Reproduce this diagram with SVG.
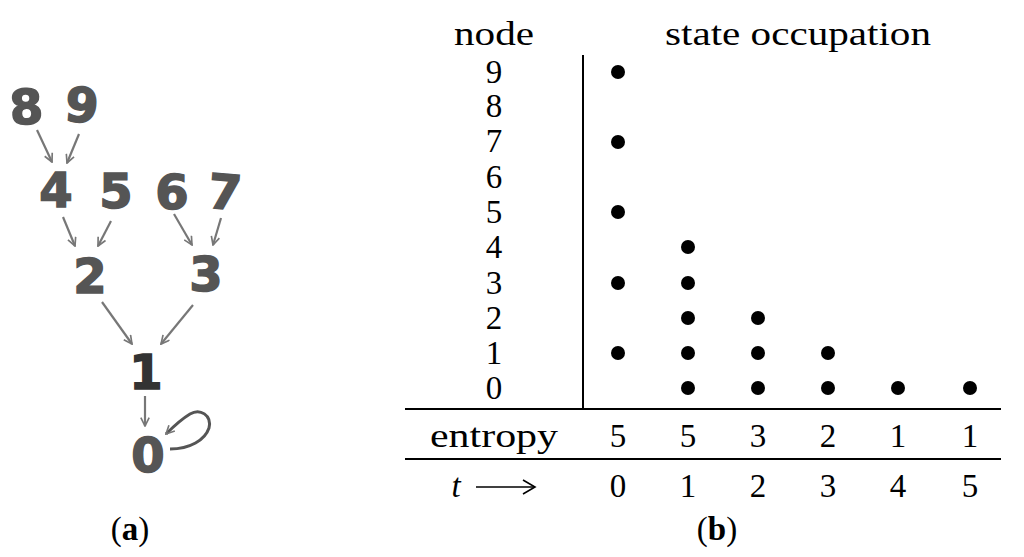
<svg xmlns="http://www.w3.org/2000/svg" width="1024" height="557" viewBox="0 0 1024 557">
<style>
.hd{font-family:"DejaVu Sans","Liberation Sans",sans-serif;font-weight:bold;font-size:48px;fill:#555;text-anchor:middle;stroke:#555;stroke-width:1.5}
.ar{stroke:#777;stroke-width:2.2;fill:none}
.tx{font-family:"Liberation Serif","DejaVu Serif",serif;font-size:33px;fill:#000;text-anchor:middle}
.dot{fill:#000}
.ln{stroke:#000;stroke-width:2;fill:none}
</style>
<defs>
<marker id="ah" viewBox="0 0 12 12" refX="11" refY="6" markerWidth="10" markerHeight="10" markerUnits="userSpaceOnUse" orient="auto">
<polyline points="1,1 11,6 1,11" fill="none" stroke="#777" stroke-width="2"/>
</marker>
</defs>
<rect width="1024" height="557" fill="#fff"/>
<g id="panel-a">
<g id="n8"><text class="hd" x="26" y="124" transform="rotate(-4 26 105)">8</text></g>
<g id="n9"><text class="hd" x="82" y="122" transform="rotate(6 82 103)">9</text></g>
<g id="n4"><text class="hd" x="56" y="207">4</text></g>
<g id="n5"><text class="hd" x="116" y="208">5</text></g>
<g id="n6"><text class="hd" x="172" y="209">6</text></g>
<g id="n7"><text class="hd" x="225" y="209" transform="rotate(5 225 190)">7</text></g>
<g id="n2"><text class="hd" x="90" y="293">2</text></g>
<g id="n3"><text class="hd" x="206" y="291">3</text></g>
<g id="n1"><text class="hd" x="146" y="389" style="fill:#333;stroke:#333">1</text></g>
<g id="n0"><text class="hd" x="148" y="472">0</text></g>
<g id="connectors">
<line class="ar" x1="37" y1="130" x2="52" y2="162" marker-end="url(#ah)"/>
<line class="ar" x1="79" y1="134" x2="67" y2="163" marker-end="url(#ah)"/>
<line class="ar" x1="63" y1="217" x2="75" y2="246" marker-end="url(#ah)"/>
<line class="ar" x1="111" y1="221" x2="98" y2="246" marker-end="url(#ah)"/>
<line class="ar" x1="174" y1="214" x2="192" y2="245" marker-end="url(#ah)"/>
<line class="ar" x1="221" y1="218" x2="213" y2="245" marker-end="url(#ah)"/>
<line class="ar" x1="102" y1="302" x2="132" y2="344" marker-end="url(#ah)"/>
<line class="ar" x1="193" y1="305" x2="161" y2="344" marker-end="url(#ah)"/>
<line class="ar" x1="145" y1="396" x2="145" y2="426" marker-end="url(#ah)"/>
<path d="M170,449 C190,449 205,440 209,428 C212,415 200,408 190,414 C180,420 172,428 166,434" style="stroke:#555;stroke-width:3;fill:none" marker-end="url(#ah)"/>
</g>
<text x="130" y="540" style="font-family:'Liberation Serif','DejaVu Serif',serif;font-size:33px;text-anchor:middle">(<tspan font-weight="bold">a</tspan>)</text>
</g>
<g id="panel-b">
<text class="tx" x="494" y="45" textLength="80" lengthAdjust="spacingAndGlyphs">node</text>
<text class="tx" x="798" y="45" textLength="266" lengthAdjust="spacingAndGlyphs">state occupation</text>
<g id="rows">
<text class="tx" x="494" y="83">9</text>
<text class="tx" x="494" y="117">8</text>
<text class="tx" x="494" y="152">7</text>
<text class="tx" x="494" y="188">6</text>
<text class="tx" x="494" y="223">5</text>
<text class="tx" x="494" y="258">4</text>
<text class="tx" x="494" y="294">3</text>
<text class="tx" x="494" y="329">2</text>
<text class="tx" x="494" y="364">1</text>
<text class="tx" x="494" y="399">0</text>
</g>
<line class="ln" x1="583" y1="55" x2="583" y2="409"/>
<line class="ln" x1="405" y1="409" x2="1001" y2="409"/>
<line class="ln" x1="405" y1="459" x2="1001" y2="459"/>
<g id="dots">
<circle class="dot" cx="618" cy="72" r="7"/>
<circle class="dot" cx="618" cy="142" r="7"/>
<circle class="dot" cx="618" cy="212" r="7"/>
<circle class="dot" cx="618" cy="283" r="7"/>
<circle class="dot" cx="618" cy="353" r="7"/>
<circle class="dot" cx="688" cy="247" r="7"/>
<circle class="dot" cx="688" cy="283" r="7"/>
<circle class="dot" cx="688" cy="318" r="7"/>
<circle class="dot" cx="688" cy="353" r="7"/>
<circle class="dot" cx="688" cy="388" r="7"/>
<circle class="dot" cx="758" cy="318" r="7"/>
<circle class="dot" cx="758" cy="353" r="7"/>
<circle class="dot" cx="758" cy="388" r="7"/>
<circle class="dot" cx="828" cy="353" r="7"/>
<circle class="dot" cx="828" cy="388" r="7"/>
<circle class="dot" cx="898" cy="388" r="7"/>
<circle class="dot" cx="970" cy="388" r="7"/>
</g>
<text class="tx" x="494" y="447" textLength="128" lengthAdjust="spacingAndGlyphs">entropy</text>
<text class="tx" x="618" y="447">5</text>
<text class="tx" x="688" y="447">5</text>
<text class="tx" x="758" y="447">3</text>
<text class="tx" x="828" y="447">2</text>
<text class="tx" x="898" y="447">1</text>
<text class="tx" x="970" y="447">1</text>
<text class="tx" x="456" y="497" font-style="italic">t</text>
<line x1="476" y1="487" x2="534" y2="487" stroke="#000" stroke-width="1.6"/>
<polyline points="523,480 535,487 523,494" fill="none" stroke="#000" stroke-width="1.6"/>
<text class="tx" x="618" y="497">0</text>
<text class="tx" x="688" y="497">1</text>
<text class="tx" x="758" y="497">2</text>
<text class="tx" x="828" y="497">3</text>
<text class="tx" x="898" y="497">4</text>
<text class="tx" x="970" y="497">5</text>
<text x="717" y="540" style="font-family:'Liberation Serif','DejaVu Serif',serif;font-size:33px;text-anchor:middle">(<tspan font-weight="bold">b</tspan>)</text>
</g>
</svg>
